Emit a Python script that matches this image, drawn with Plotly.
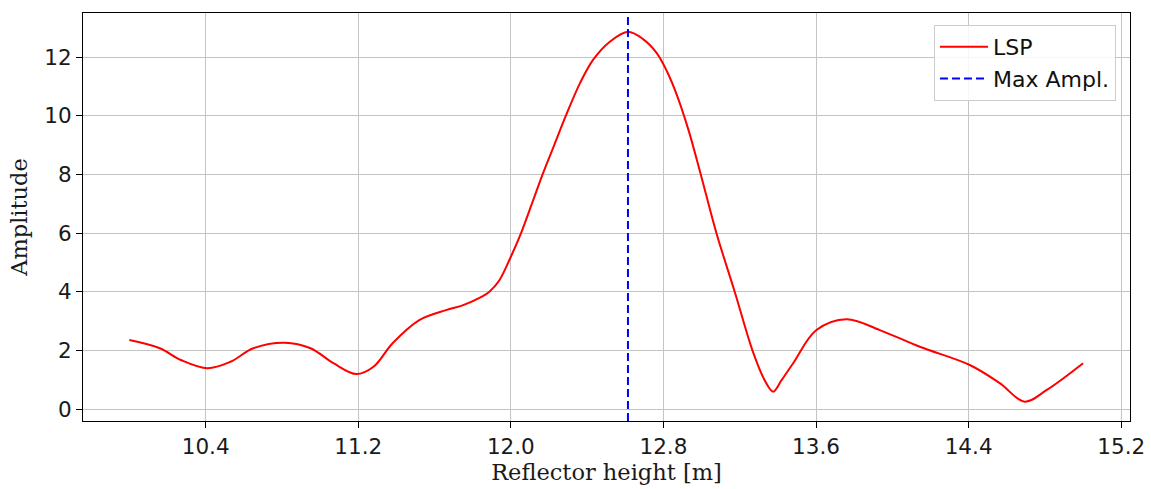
import numpy as np
import plotly.graph_objects as go

# Data
heights = [10.00, 10.16, 10.27, 10.41, 10.53, 10.65, 10.815, 10.95, 11.07, 11.19,
           11.28, 11.38, 11.52, 11.66, 11.75, 11.83, 11.886, 11.94, 12.00, 12.053,
           12.11, 12.166, 12.227, 12.288, 12.362, 12.431, 12.519, 12.614, 12.693, 12.764,
           12.82, 12.87, 12.93, 12.994, 13.078, 13.174, 13.267, 13.33, 13.375, 13.42,
           13.48, 13.602, 13.76, 13.934, 14.144, 14.406, 14.563, 14.694, 14.81, 15.00]
amplitude = [2.36, 2.08, 1.68, 1.40, 1.62, 2.08, 2.27, 2.08, 1.57, 1.20,
             1.45, 2.25, 3.04, 3.38, 3.55, 3.78, 4.00, 4.40, 5.20, 6.00,
             7.00, 8.00, 9.00, 10.00, 11.11, 11.91, 12.53, 12.87, 12.62, 12.15,
             11.50, 10.72, 9.55, 8.05, 6.00, 4.00, 2.00, 1.00, 0.60, 1.00,
             1.57, 2.70, 3.07, 2.70, 2.13, 1.51, 0.89, 0.26, 0.66, 1.57]
x_ticks = [10.4, 11.2, 12.0, 12.8, 13.6, 14.4, 15.2]
y_ticks = [0, 2, 4, 6, 8, 10, 12]

x_range = [9.757, 15.246]
y_range = [-0.40, 13.51]

peak_x = heights[int(np.argmax(amplitude))]

fig = go.Figure()
fig.add_trace(go.Scatter(
    x=heights, y=amplitude, mode="lines", name="LSP",
    line=dict(color="#ff0000", width=2, shape="spline", smoothing=1.0),
))
fig.add_trace(go.Scatter(
    x=[peak_x, peak_x], y=y_range, mode="lines", name="Max Ampl.",
    line=dict(color="#0000ff", width=2, dash="8px,4px"),
))

axis_common = dict(
    showline=True, linecolor="black", linewidth=1.2, mirror=True,
    ticks="outside", ticklen=6, tickwidth=1.2, tickcolor="black",
    showgrid=True, gridcolor="#c4c4c4", gridwidth=1,
    zeroline=False, automargin=False,
    tickfont=dict(family="DejaVu Sans", size=21.5, color="#1a1a1a"),
)

fig.update_xaxes(
    range=x_range, tickvals=x_ticks, ticktext=[f"{v:.1f}" for v in x_ticks],
    title=dict(text="Reflector height [m]", standoff=6,
               font=dict(family="DejaVu Serif", size=22.5, color="#1a1a1a")),
    **axis_common,
)
fig.update_yaxes(
    range=y_range, tickvals=y_ticks,
    title=dict(text="Amplitude", standoff=10,
               font=dict(family="DejaVu Serif", size=22.5, color="#1a1a1a")),
    **axis_common,
)

fig.update_layout(
    width=1151, height=489,
    margin=dict(l=83, r=21, t=13, b=68),
    plot_bgcolor="white", paper_bgcolor="white",
    showlegend=True,
    legend=dict(
        x=0.9866, y=0.9706, xanchor="right", yanchor="top",
        bgcolor="rgba(255,255,255,0.85)", bordercolor="#cccccc", borderwidth=1,
        itemwidth=48,
        font=dict(family="DejaVu Sans", size=22, color="#111111"),
    ),
)

fig.write_html("out.html")
